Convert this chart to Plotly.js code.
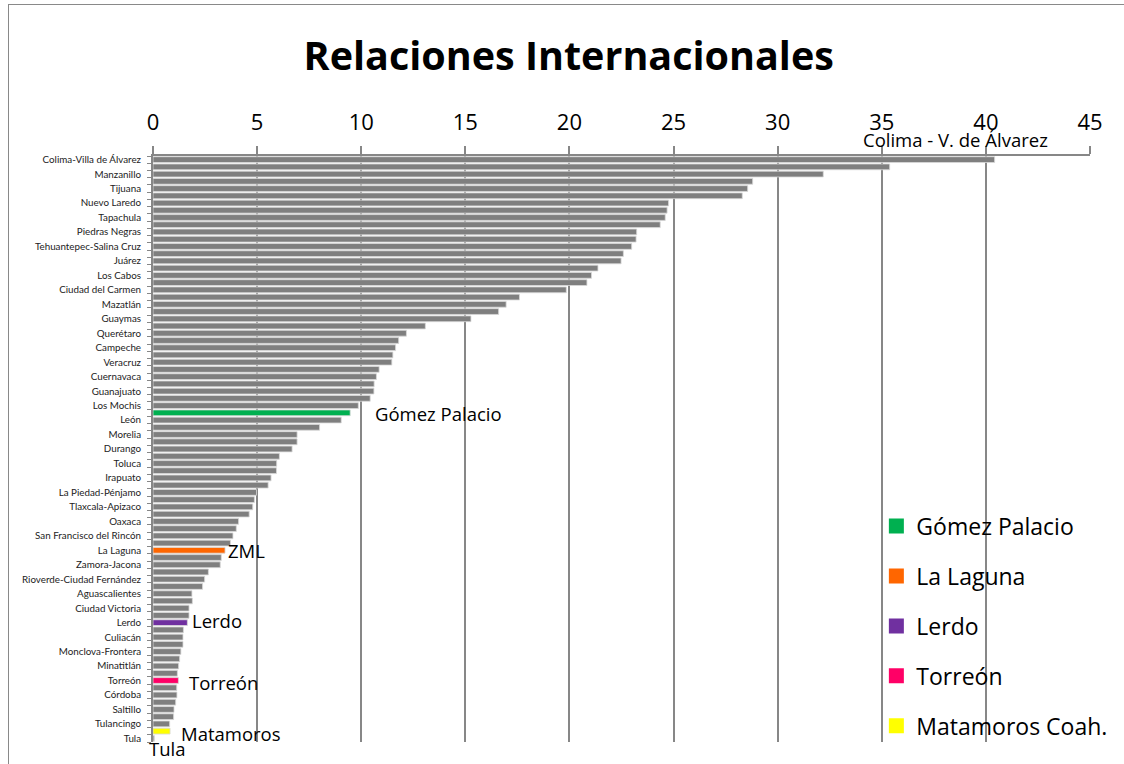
<!DOCTYPE html>
<html>
<head>
<meta charset="utf-8">
<script src="https://cdn.plot.ly/plotly-3.0.1.min.js"></script>
<style>
html,body{margin:0;padding:0;background:#fff;overflow:hidden;}
#frame{position:absolute;left:8px;top:4px;width:1140px;height:800px;border:1px solid #898989;}
#chart{position:absolute;left:0;top:0;width:1124px;height:764px;}
</style>
</head>
<body>
<div id="frame"></div>
<div id="chart"></div>
<script>
// Categories (top to bottom); unlabeled bars in the original are left blank except highlighted ones
const categories = [
 "Colima-Villa de Álvarez","", "Manzanillo","", "Tijuana","", "Nuevo Laredo","", "Tapachula","",
 "Piedras Negras","", "Tehuantepec-Salina Cruz","", "Juárez","", "Los Cabos","", "Ciudad del Carmen","",
 "Mazatlán","", "Guaymas","", "Querétaro","", "Campeche","", "Veracruz","",
 "Cuernavaca","", "Guanajuato","", "Los Mochis","Gómez Palacio", "León","", "Morelia","",
 "Durango","", "Toluca","", "Irapuato","", "La Piedad-Pénjamo","", "Tlaxcala-Apizaco","",
 "Oaxaca","", "San Francisco del Rincón","", "La Laguna","", "Zamora-Jacona","", "Rioverde-Ciudad Fernández","",
 "Aguascalientes","", "Ciudad Victoria","", "Lerdo","", "Culiacán","", "Monclova-Frontera","",
 "Minatitlán","", "Torreón","", "Córdoba","", "Saltillo","", "Tulancingo","Matamoros Coah.",
 "Tula"
];
const values = [
 40.42,35.38, 32.19,28.80, 28.56,28.30, 24.76,24.69, 24.60,24.36,
 23.23,23.20, 22.99,22.59, 22.48,21.37, 21.06,20.84, 19.85,17.60,
 16.96,16.60, 15.27,13.08, 12.17,11.80, 11.65,11.52, 11.47,10.86,
 10.73,10.62, 10.61,10.43, 9.86,9.47, 9.04,8.00, 6.92,6.92,
 6.68,6.07, 5.94,5.93, 5.67,5.53, 4.97,4.87, 4.79,4.62,
 4.11,4.00, 3.84,3.72, 3.46,3.28, 3.23,2.66, 2.48,2.38,
 1.87,1.89, 1.73,1.73, 1.65,1.46, 1.44,1.44, 1.34,1.28,
 1.23,1.17, 1.22,1.14, 1.15,1.09, 1.01,0.99, 0.80,0.82,
 0.06
];
const highlightNames  = ["Gómez Palacio","La Laguna","Lerdo","Torreón","Matamoros Coah."];
const highlightColors = ["#00B050","#FF6600","#7030A0","#FF0066","#FFFF00"];
const xTicks = [0,5,10,15,20,25,30,35,40,45];

// Annotated bars: [label, category, x offset, vertical shift]
const barNotes = [
 ["Gómez Palacio","Gómez Palacio",1.1,-1],
 ["ZML","La Laguna",0.05,0],
 ["Lerdo","Lerdo",0.15,2],
 ["Torreón","Torreón",0.4,-2],
 ["Matamoros","Matamoros Coah.",0.45,-2]
];

const grey = "#7F7F7F";
const idx = categories.map((_, i) => i);
const colors = categories.map(c => {
  const k = highlightNames.indexOf(c);
  return k >= 0 ? highlightColors[k] : grey;
});
const tickvals = idx.filter(i => i % 2 === 0);
const ticktext = tickvals.map(i => categories[i]);

const traces = [{
  type: "bar", orientation: "h",
  x: values, y: idx,
  marker: {color: colors, line: {color: "#D9D9D9", width: 0.8}},
  showlegend: false, hoverinfo: "x"
}];
highlightNames.forEach((n, k) => {
  traces.push({
    type: "scatter", mode: "markers", x: [null], y: [null], name: n,
    legendgroup: "g" + k,
    marker: {symbol: "square", size: 15, color: highlightColors[k]}
  });
});

const noteFont = {family: "Open Sans, sans-serif", size: 18.5, color: "#000"};
const annotations = barNotes.map(([txt, cat, dx, dy]) => {
  const i = categories.indexOf(cat);
  return {
    x: values[i] + dx, y: i, xref: "x", yref: "y", text: txt, showarrow: false,
    xanchor: "left", yanchor: "middle", yshift: dy, font: noteFont
  };
});
// Tula label under last bar
annotations.push({
  x: values[categories.indexOf("Tula")], y: categories.indexOf("Tula"), xref: "x", yref: "y",
  text: "Tula", showarrow: false, xanchor: "left", yanchor: "middle", yshift: -10, xshift: -7,
  font: noteFont
});
// Colima label above plot
annotations.push({
  x: values[0] - 6.4, y: -0.5, xref: "x", yref: "y", yanchor: "bottom", xanchor: "left",
  yshift: 2, text: "Colima - V. de Álvarez", showarrow: false,
  font: {family: "Open Sans, sans-serif", size: 18.5, color: "#000"}
});

const layout = {
  width: 1124, height: 764,
  paper_bgcolor: "rgba(0,0,0,0)", plot_bgcolor: "#fff",
  margin: {l: 153, r: 31, t: 156, b: 22},
  title: {text: "<b>Relaciones Internacionales</b>", x: 0.506, xanchor: "center", y: 0.926, yanchor: "middle",
          font: {family: "Open Sans, sans-serif", size: 39.5, color: "#000"}},
  bargap: 0.2,
  xaxis: {
    side: "top", range: [0, 45], tickvals: xTicks, ticktext: xTicks.map(String),
    showgrid: true, gridcolor: "#878787", gridwidth: 2,
    showline: true, linecolor: "#878787", linewidth: 2,
    ticks: "outside", ticklen: 8, tickcolor: "#878787", tickwidth: 2,
    ticklabelstandoff: 7,
    tickfont: {family: "Open Sans, sans-serif", size: 22, color: "#000"},
    zeroline: false, fixedrange: true
  },
  yaxis: {
    range: [80.5, -0.5], tickvals: tickvals, ticktext: ticktext,
    tickfont: {family: "Lato, sans-serif", size: 9.8, color: "#222"},
    showgrid: false, zeroline: false,
    showline: true, linecolor: "#878787", linewidth: 2,
    ticks: "", ticklabelstandoff: 8,
    minor: {ticks: "outside", tickvals: idx.map(i => i - 0.5).concat([idx.length - 0.5]), ticklen: 4, tickcolor: "#878787", tickwidth: 1, showgrid: false},
    fixedrange: true
  },
  legend: {x: 0.772, y: 0.405, xanchor: "left", yanchor: "top", tracegroupgap: 17, itemwidth: 20,
           font: {family: "Open Sans, sans-serif", size: 23, color: "#000"}, bgcolor: "rgba(0,0,0,0)"},
  annotations: annotations,
  showlegend: true
};

Plotly.newPlot("chart", traces, layout, {displayModeBar: false, staticPlot: true});
</script>
</body>
</html>
